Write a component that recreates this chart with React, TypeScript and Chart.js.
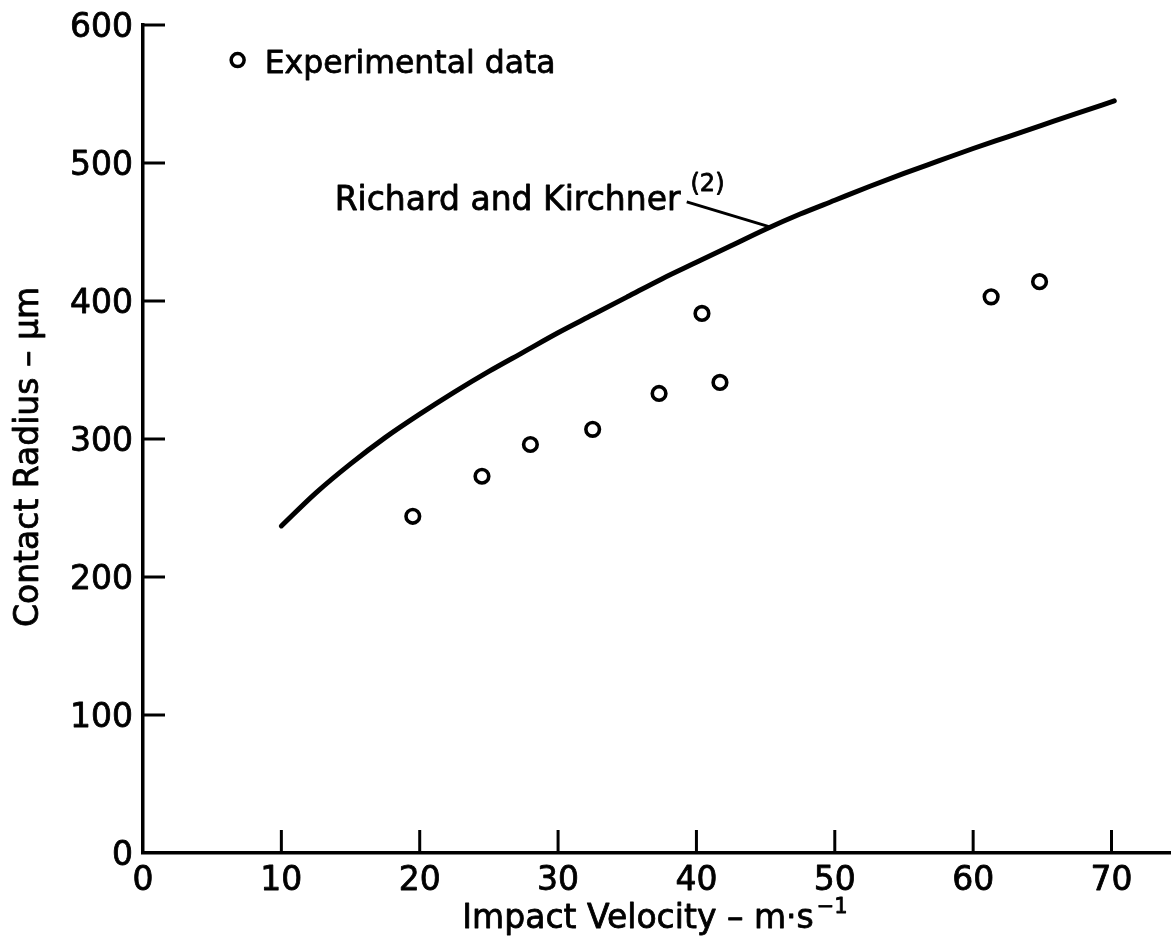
import React, { useEffect, useRef } from "react";
import { Chart, registerables } from "chart.js";

Chart.register(...registerables);

// ---- data ----
const xTicks = [0, 10, 20, 30, 40, 50, 60, 70];
const yTicks = [0, 100, 200, 300, 400, 500, 600];

const expVelocity = [19.5, 24.5, 28.0, 32.5, 37.3, 40.4, 41.7, 61.3, 64.8];
const expRadius = [244, 273, 296, 307, 333, 391, 341, 403, 414];

const theoryVelocity = [10, 12.5, 15, 17.5, 20, 22.5, 25, 27.5, 30, 32.5, 35, 37.5, 40, 42.5, 45, 47.5, 50, 52.5, 55, 57.5, 60, 62.5, 65, 67.5, 70.2];
const theoryRadius = [237, 261, 282, 301, 318, 334, 349, 363, 377, 390, 403, 416, 428, 440, 452, 463, 473, 483, 492.5, 501.5, 510.5, 519, 527.5, 536, 545];

const xTitle = "Impact Velocity – m·s";
const xTitleSup = "−1";
const yTitle = "Contact Radius – μm";
const legendLabel = "Experimental data";
const curveLabel = "Richard and Kirchner";
const curveLabelSup = "(2)";

const FONT = "'DejaVu Sans', sans-serif";

function heavyText(ctx: CanvasRenderingContext2D, s: string, x: number, y: number) {
  ctx.fillText(s, x, y);
  ctx.lineWidth = 0.8;
  ctx.lineJoin = "round";
  ctx.strokeText(s, x, y);
}

const decorPlugin = {
  id: "decor",
  afterDraw(chart: any) {
    const ctx = chart.ctx as CanvasRenderingContext2D;
    const xs = chart.scales.x;
    const ys = chart.scales.y;
    const area = chart.chartArea;
    ctx.save();
    ctx.strokeStyle = "#000";
    ctx.fillStyle = "#000";
    ctx.lineCap = "butt";

    // inward tick marks
    ctx.lineWidth = 3;
    xTicks.forEach((v) => {
      if (v === 0) return;
      const px = xs.getPixelForValue(v);
      ctx.beginPath();
      ctx.moveTo(px, area.bottom);
      ctx.lineTo(px, area.bottom - 23);
      ctx.stroke();
    });
    yTicks.forEach((v) => {
      if (v === 0) return;
      const py = ys.getPixelForValue(v);
      ctx.beginPath();
      ctx.moveTo(area.left, py);
      ctx.lineTo(area.left + 22, py);
      ctx.stroke();
    });

    // tick labels
    ctx.font = `33px ${FONT}`;
    ctx.textAlign = "center";
    ctx.textBaseline = "alphabetic";
    xTicks.forEach((v) => {
      heavyText(ctx, String(v), xs.getPixelForValue(v), area.bottom + 37);
    });
    ctx.textAlign = "right";
    yTicks.forEach((v) => {
      heavyText(ctx, String(v), area.left - 10, ys.getPixelForValue(v) + 12);
    });

    // x title
    ctx.textBaseline = "alphabetic";
    ctx.textAlign = "left";
    ctx.font = `33px ${FONT}`;
    const mainW = ctx.measureText(xTitle).width;
    ctx.font = `21px ${FONT}`;
    const supW = ctx.measureText(xTitleSup).width;
    const cx = 655;
    const startX = cx - (mainW + supW + 3) / 2;
    ctx.font = `33px ${FONT}`;
    heavyText(ctx, xTitle, startX, 928);
    ctx.font = `21px ${FONT}`;
    heavyText(ctx, xTitleSup, startX + mainW + 3, 913);

    // y title
    ctx.save();
    ctx.translate(38, 457);
    ctx.rotate(-Math.PI / 2);
    ctx.textAlign = "center";
    ctx.font = `33px ${FONT}`;
    heavyText(ctx, yTitle, 0, 0);
    ctx.restore();

    // legend
    const lx = xs.getPixelForValue(6.84);
    const ly = ys.getPixelForValue(574.6);
    ctx.lineWidth = 3.5;
    ctx.beginPath();
    ctx.arc(lx, ly, 6.5, 0, Math.PI * 2);
    ctx.fillStyle = "#fff";
    ctx.fill();
    ctx.stroke();
    ctx.fillStyle = "#000";
    ctx.font = `31.5px ${FONT}`;
    ctx.textAlign = "left";
    heavyText(ctx, legendLabel, lx + 27, ly + 13);

    // curve annotation
    const ax = xs.getPixelForValue(13.85);
    const ay = ys.getPixelForValue(466);
    ctx.font = `33px ${FONT}`;
    heavyText(ctx, curveLabel, ax, ay);
    const cw = ctx.measureText(curveLabel).width;
    ctx.font = `24px ${FONT}`;
    heavyText(ctx, curveLabelSup, ax + cw + 10, ay - 19);
    ctx.lineWidth = 3;
    ctx.beginPath();
    ctx.moveTo(xs.getPixelForValue(39.3), ys.getPixelForValue(471.8));
    ctx.lineTo(xs.getPixelForValue(45.3), ys.getPixelForValue(453.7));
    ctx.stroke();

    ctx.restore();
  },
};

export default function App() {
  const ref = useRef<HTMLCanvasElement | null>(null);

  useEffect(() => {
    document.body.style.margin = "0";
    const canvas = ref.current;
    if (!canvas) return;
    const chart = new Chart(canvas, {
      type: "scatter",
      data: {
        datasets: [
          {
            label: curveLabel,
            data: theoryVelocity.map((v, i) => ({ x: v, y: theoryRadius[i] })),
            showLine: true,
            borderColor: "#000",
            borderWidth: 5,
            borderCapStyle: "round",
            borderJoinStyle: "round",
            pointRadius: 0,
            cubicInterpolationMode: "monotone",
            fill: false,
          } as any,
          {
            label: legendLabel,
            data: expVelocity.map((v, i) => ({ x: v, y: expRadius[i] })),
            showLine: false,
            pointStyle: "circle",
            pointRadius: 6.8,
            pointBorderWidth: 3.6,
            pointBorderColor: "#000",
            pointBackgroundColor: "#fff",
          } as any,
        ],
      },
      options: {
        responsive: false,
        animation: false,
        devicePixelRatio: 1,
        layout: { autoPadding: false, padding: { top: 25, right: 0, left: 0, bottom: 0 } },
        plugins: {
          legend: { display: false },
          tooltip: { enabled: false },
          title: { display: false },
        },
        scales: {
          x: {
            type: "linear",
            min: 0,
            max: 74.3,
            afterFit: (s: any) => {
              s.height = 86;
            },
            afterBuildTicks: (s: any) => {
              s.ticks = xTicks.map((v) => ({ value: v }));
            },
            ticks: { display: false, includeBounds: false },
            grid: { display: false, drawTicks: false, drawOnChartArea: false },
            border: { display: true, color: "#000", width: 3.5 },
          },
          y: {
            type: "linear",
            min: 0,
            max: 600,
            afterFit: (s: any) => {
              s.width = 143;
            },
            afterBuildTicks: (s: any) => {
              s.ticks = yTicks.map((v) => ({ value: v }));
            },
            ticks: { display: false, includeBounds: false },
            grid: { display: false, drawTicks: false, drawOnChartArea: false },
            border: { display: true, color: "#000", width: 3.5 },
          },
        },
      } as any,
      plugins: [decorPlugin],
    });
    return () => chart.destroy();
  }, []);

  return (
    <div style={{ width: 1171, height: 939, background: "#fff" }}>
      <canvas ref={ref} width={1171} height={939} style={{ display: "block" }} />
    </div>
  );
}
